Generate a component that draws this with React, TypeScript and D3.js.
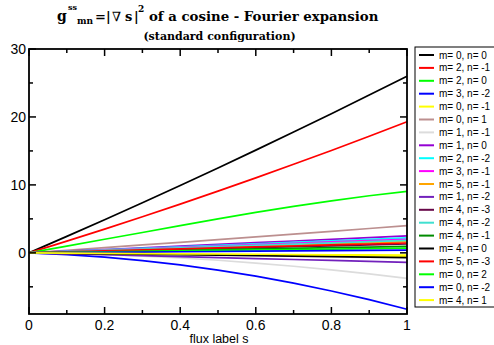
import React from 'react';
import * as d3 from 'd3';

// flux label s sample points
const sValues = [0, 0.1, 0.2, 0.3, 0.4, 0.5, 0.6, 0.7, 0.8, 0.9, 1.0];

const seriesLabels = [
  'm= 0, n= 0', 'm= 2, n= -1', 'm= 2, n= 0', 'm= 3, n= -2', 'm= 0, n= -1',
  'm= 0, n= 1', 'm= 1, n= -1', 'm= 1, n= 0', 'm= 2, n= -2', 'm= 3, n= -1',
  'm= 5, n= -1', 'm= 1, n= -2', 'm= 4, n= -3', 'm= 4, n= -2', 'm= 4, n= -1',
  'm= 4, n= 0', 'm= 5, n= -3', 'm= 0, n= 2', 'm= 0, n= -2', 'm= 4, n= 1',
];

const seriesColors = [
  '#000000', '#ff0000', '#00ff00', '#0000ff', '#ffff00',
  '#bc8f8f', '#dcdcdc', '#9400d3', '#00ffff', '#ff00ff',
  '#ffa500', '#7221bc', '#670748', '#40e0d0', '#008b00',
  '#000000', '#ff0000', '#00ff00', '#0000ff', '#ffff00',
];

const seriesValues: number[][] = [
  [0, 2.42, 4.88, 7.38, 9.92, 12.5, 15.12, 17.78, 20.48, 23.22, 26.0],
  [0, 1.72, 3.49, 5.31, 7.17, 9.08, 11.03, 13.03, 15.07, 17.16, 19.3],
  [0, 1.0, 2.0, 3.0, 4.0, 5.0, 5.95, 6.85, 7.65, 8.4, 9.06],
  [0, -0.25, -0.63, -1.14, -1.77, -2.54, -3.43, -4.46, -5.61, -6.89, -8.3],
  [0, -0.05, -0.1, -0.15, -0.2, -0.25, -0.3, -0.35, -0.4, -0.45, -0.5],
  [0, 0.38, 0.77, 1.16, 1.55, 1.95, 2.35, 2.75, 3.17, 3.58, 4.0],
  [0, -0.09, -0.25, -0.47, -0.75, -1.09, -1.5, -1.97, -2.5, -3.09, -3.75],
  [0, 0.24, 0.49, 0.74, 0.99, 1.24, 1.49, 1.74, 1.99, 2.24, 2.5],
  [0, 0.21, 0.43, 0.65, 0.87, 1.09, 1.31, 1.53, 1.75, 1.97, 2.2],
  [0, 0.2, 0.4, 0.6, 0.8, 1.0, 1.2, 1.4, 1.6, 1.8, 2.0],
  [0, 0.16, 0.33, 0.49, 0.66, 0.82, 0.99, 1.15, 1.32, 1.48, 1.65],
  [0, -0.14, -0.28, -0.42, -0.56, -0.7, -0.84, -0.98, -1.12, -1.26, -1.4],
  [0, 0.13, 0.26, 0.39, 0.52, 0.65, 0.78, 0.91, 1.04, 1.17, 1.3],
  [0, 0.18, 0.37, 0.55, 0.74, 0.92, 1.11, 1.29, 1.48, 1.66, 1.85],
  [0, 0.09, 0.19, 0.28, 0.38, 0.47, 0.57, 0.66, 0.76, 0.85, 0.95],
  [0, -0.07, -0.14, -0.21, -0.28, -0.35, -0.42, -0.49, -0.56, -0.63, -0.7],
  [0, 0.14, 0.29, 0.43, 0.58, 0.72, 0.87, 1.01, 1.16, 1.3, 1.45],
  [0, 0.07, 0.14, 0.21, 0.28, 0.35, 0.42, 0.49, 0.56, 0.63, 0.7],
  [0, 0.04, 0.08, 0.12, 0.16, 0.2, 0.24, 0.28, 0.32, 0.36, 0.4],
  [0, -0.03, -0.07, -0.1, -0.14, -0.17, -0.21, -0.24, -0.28, -0.31, -0.35],
];

const xMajorTicks = [0, 0.2, 0.4, 0.6, 0.8, 1];
const xMinorTicks = [0.1, 0.3, 0.5, 0.7, 0.9];
const yMajorTicks = [0, 10, 20, 30];
const yMinorTicks = [-5, 5, 15, 25];

const W = 494;
const H = 345;
const plot = { left: 29, right: 407, top: 49, bottom: 314 };
const sans = "'Liberation Sans', Arial, Helvetica, sans-serif";
const serif = "'DejaVu Serif', 'Liberation Serif', serif";

const App: React.FC = () => {
  const x = d3.scaleLinear().domain([0, 1]).range([plot.left, plot.right]);
  const y = d3.scaleLinear().domain([-9, 30]).range([plot.bottom, plot.top]);

  const line = d3
    .line<number>()
    .x((_, i) => x(sValues[i]))
    .y((d) => y(d));

  const majorLen = 7;
  const minorLen = 4;

  return (
    <div style={{ position: 'absolute', left: 0, top: 0 }}>
      <svg width={W} height={H} style={{ display: 'block', background: '#fff' }}>
        {/* title */}
        <g fontFamily={serif} fontWeight="bold" fill="#000">
          <text x={57} y={21} fontSize={14}>g</text>
          <text x={68} y={10} fontSize={8}>ss</text>
          <text x={77} y={24} fontSize={9}>mn</text>
          <text x={95} y={21} fontSize={13}>=</text>
          <text x={106} y={21} fontSize={13}>|</text>
          <text x={112} y={21} fontSize={13} fontWeight="normal">∇</text>
          <text x={125} y={21} fontSize={13}>s</text>
          <text x={134} y={21} fontSize={13}>|</text>
          <text x={138} y={12} fontSize={9}>2</text>
          <text x={149} y={21} fontSize={13.3}>of a cosine - Fourier expansion</text>
          <text x={219.5} y={40} fontSize={11} textAnchor="middle">(standard configuration)</text>
        </g>

        {/* series */}
        <g fill="none" strokeWidth={1.7}>
          {seriesValues.map((vals, i) => (
            <path key={i} d={line(vals) || ''} stroke={seriesColors[i]} />
          ))}
        </g>

        {/* frame and ticks */}
        <g stroke="#000" strokeWidth={1.5}>
          {xMajorTicks.map((t) => (
            <g key={'xM' + t}>
              <line x1={x(t)} x2={x(t)} y1={plot.bottom} y2={plot.bottom - majorLen} />
              <line x1={x(t)} x2={x(t)} y1={plot.top} y2={plot.top + majorLen} />
            </g>
          ))}
          {xMinorTicks.map((t) => (
            <g key={'xm' + t}>
              <line x1={x(t)} x2={x(t)} y1={plot.bottom} y2={plot.bottom - minorLen} />
              <line x1={x(t)} x2={x(t)} y1={plot.top} y2={plot.top + minorLen} />
            </g>
          ))}
          {yMajorTicks.map((t) => (
            <g key={'yM' + t}>
              <line x1={plot.left} x2={plot.left + majorLen} y1={y(t)} y2={y(t)} />
              <line x1={plot.right} x2={plot.right - majorLen} y1={y(t)} y2={y(t)} />
            </g>
          ))}
          {yMinorTicks.map((t) => (
            <g key={'ym' + t}>
              <line x1={plot.left} x2={plot.left + minorLen} y1={y(t)} y2={y(t)} />
              <line x1={plot.right} x2={plot.right - minorLen} y1={y(t)} y2={y(t)} />
            </g>
          ))}
          <rect
            x={plot.left}
            y={plot.top}
            width={plot.right - plot.left}
            height={plot.bottom - plot.top}
            fill="none"
            strokeWidth={1.8}
          />
        </g>

        {/* tick labels */}
        <g fontFamily={sans} fontSize={14} fill="#000">
          {yMajorTicks.map((t) => (
            <text key={'yl' + t} x={26} y={y(t)} dy="0.36em" textAnchor="end">
              {t}
            </text>
          ))}
          {xMajorTicks.map((t) => (
            <text key={'xl' + t} x={x(t)} y={330} textAnchor="middle">
              {d3.format('~g')(t)}
            </text>
          ))}
        </g>
        <text x={219} y={343} fontFamily={sans} fontSize={12.5} textAnchor="middle">
          flux label s
        </text>

        {/* legend */}
        <rect x={415} y={47} width={90} height={260} fill="#fff" stroke="#000" strokeWidth={1} />
        <g fontFamily={sans} fontSize={10}>
          {seriesLabels.map((lab, i) => {
            const ly = 55 + i * 12.9;
            return (
              <g key={lab}>
                <line x1={419} x2={434} y1={ly} y2={ly} stroke={seriesColors[i]} strokeWidth={2} />
                <text x={439} y={ly} dy="0.35em">{lab}</text>
              </g>
            );
          })}
        </g>
      </svg>
    </div>
  );
};

export default App;
